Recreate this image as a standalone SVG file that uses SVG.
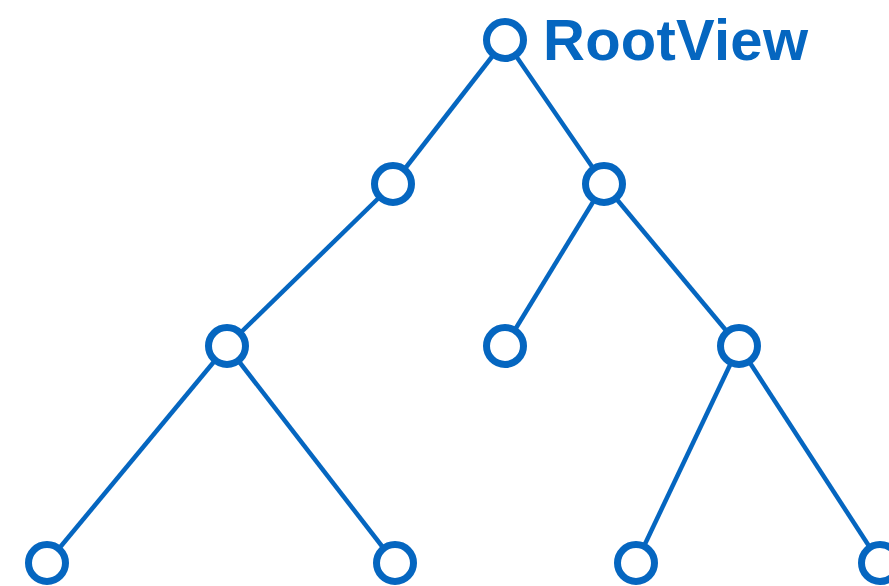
<svg xmlns="http://www.w3.org/2000/svg" width="889" height="586" viewBox="0 0 889 586">
<style>
.e{stroke:#0566c0;stroke-width:4.5;fill:none}
.n{fill:#fff;stroke:#0566c0;stroke-width:7}
.t{font-family:"Liberation Sans",Arial,sans-serif;font-weight:bold;font-size:58px;fill:#0566c0}
</style>
<rect width="889" height="586" fill="#fff"/>
<g id="connectors">
<line class="e" x1="505" y1="40" x2="393" y2="184"/>
<line class="e" x1="505" y1="40" x2="604" y2="184"/>
<line class="e" x1="393" y1="184" x2="227" y2="346"/>
<line class="e" x1="604" y1="184" x2="505" y2="346"/>
<line class="e" x1="604" y1="184" x2="739" y2="346"/>
<line class="e" x1="227" y1="346" x2="47" y2="563"/>
<line class="e" x1="227" y1="346" x2="395" y2="563"/>
<line class="e" x1="739" y1="346" x2="636" y2="563"/>
<line class="e" x1="739" y1="346" x2="880" y2="563"/>
</g>
<g id="root"><circle class="n" cx="505" cy="40" r="18.5"/><text class="t" x="543" y="60" textLength="265" lengthAdjust="spacing">RootView</text></g>
<g id="n1"><circle class="n" cx="393" cy="184" r="18.5"/></g>
<g id="n2"><circle class="n" cx="604" cy="184" r="18.5"/></g>
<g id="n3"><circle class="n" cx="227" cy="346" r="18.5"/></g>
<g id="n4"><circle class="n" cx="505" cy="346" r="18.5"/></g>
<g id="n5"><circle class="n" cx="739" cy="346" r="18.5"/></g>
<g id="n6"><circle class="n" cx="47" cy="563" r="18.5"/></g>
<g id="n7"><circle class="n" cx="395" cy="563" r="18.5"/></g>
<g id="n8"><circle class="n" cx="636" cy="563" r="18.5"/></g>
<g id="n9"><circle class="n" cx="880" cy="563" r="18.5"/></g>
</svg>
